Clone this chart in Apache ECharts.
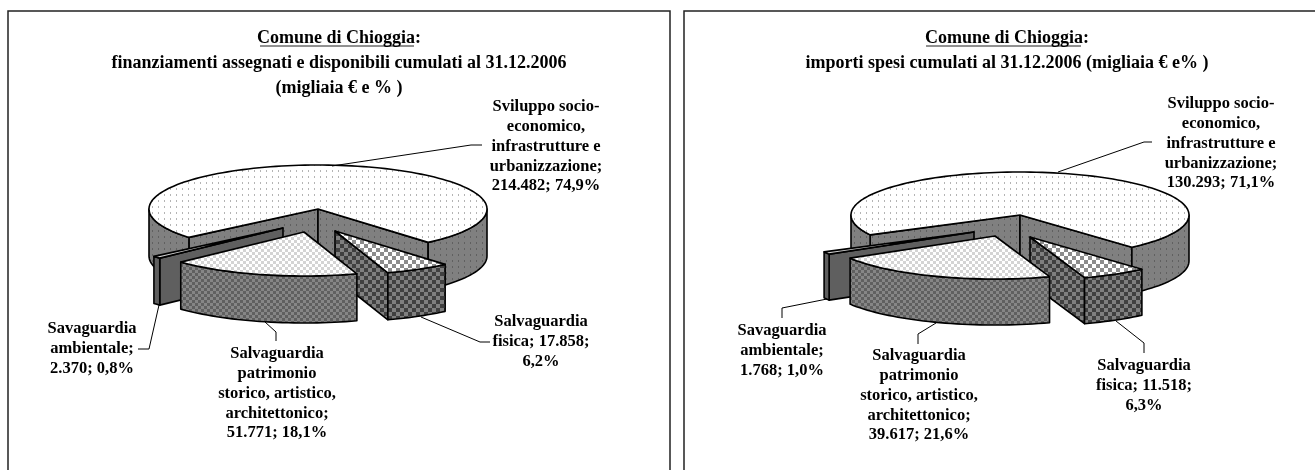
<!DOCTYPE html>
<html>
<head>
<meta charset="utf-8">
<style>
  html, body { margin: 0; background: #fff; }
  #chart-panel { width: 1315px; height: 470px; }
</style>
<script src="https://cdn.jsdelivr.net/npm/echarts@6/dist/echarts.min.js"></script>
</head>
<body>
<div id="chart-panel"></div>
<script>
// dati (ordine orario dopo il settore principale)
const categories = [
  'Sviluppo socio-\neconomico,\ninfrastrutture e\nurbanizzazione',
  'Salvaguardia\nfisica',
  'Salvaguardia\npatrimonio\nstorico, artistico,\narchitettonico',
  'Savaguardia\nambientale'
];
const valuesAssegnati = [214482, 17858, 51771, 2370];
const valuesSpesi = [130293, 11518, 39617, 1768];
const titleAssegnati = 'Comune di Chioggia:\nfinanziamenti assegnati e disponibili cumulati al 31.12.2006\n(migliaia € e % )';
const titleSpesi = 'Comune di Chioggia:\nimporti spesi cumulati al 31.12.2006 (migliaia € e% )';

// ordine di disegno: principale, ambientale, fisica, patrimonio
const drawOrder = [0, 3, 1, 2];
const FONT = 'bold 16.5px "Liberation Serif", "Times New Roman", serif';

// geometria dei due pannelli
const layoutAssegnati = {
  cx: 318, cy: 209, rx: 169, ry: 44, depth: 47, start: 139.8,
  offsets: [[0, 0], [17, 22], [-14, 23], [-35, 19]],
  labels: [[546, 97], [541, 312], [277, 344], [92, 319]],
  leaders: [
    [[332, 166], [471, 145], [482, 145]],
    [[421, 317], [480, 342], [490, 342]],
    [[265, 322], [276, 332], [276, 341]],
    [[159, 305], [149, 349], [138, 349]]
  ]
};
const layoutSpesi = {
  cx: 1020, cy: 215, rx: 169, ry: 43, depth: 46, start: 152.5,
  offsets: [[0, 0], [10, 22], [-25, 21], [-46, 17]],
  labels: [[1221, 94], [1144, 356], [919, 346], [782, 321]],
  leaders: [
    [[1058, 172], [1144, 142], [1152, 142]],
    [[1116, 321], [1144, 343], [1144, 353]],
    [[936, 323], [918, 334], [918, 344]],
    [[827, 299], [782, 308], [782, 318]]
  ]
};

// retini in stile Excel
function makePattern(size, paint) {
  let c = document.createElement('canvas');
  c.width = c.height = size;
  let ctx = c.getContext('2d');
  paint(ctx);
  return { image: c, repeat: 'repeat' };
}
function dots(bg, fg) {
  return makePattern(6, ctx => {
    ctx.fillStyle = bg; ctx.fillRect(0, 0, 6, 6);
    ctx.fillStyle = fg; ctx.fillRect(2, 2, 1, 2);
  });
}
function checker(size, a, b) {
  return makePattern(size * 2, ctx => {
    ctx.fillStyle = a; ctx.fillRect(0, 0, size * 2, size * 2);
    ctx.fillStyle = b; ctx.fillRect(0, 0, size, size); ctx.fillRect(size, size, size, size);
  });
}
const sliceFills = [
  { top: dots('#ffffff', '#b4b4b4'), side: dots('#808080', '#606060') },
  { top: checker(4, '#ffffff', '#8c8c8c'), side: checker(4, '#7f7f7f', '#404040') },
  { top: checker(3, '#ffffff', '#d4d4d4'), side: checker(3, '#868686', '#606060') },
  { top: '#d0d0d0', side: '#5f5f5f' }
];

function formatIt(v) {
  return String(v).replace(/\B(?=(\d{3})+$)/g, '.');
}

function labelText(values, i, total) {
  let pct = (values[i] / total * 100).toFixed(1).replace('.', ',');
  // la fisica va a capo in un punto diverso dalle altre
  if (i === 1) return `${categories[i]}; ${formatIt(values[i])};\n${pct}%`;
  return `${categories[i]};\n${formatIt(values[i])}; ${pct}%`;
}

function sliceAngles(values, start) {
  let total = values.reduce((a, b) => a + b, 0);
  let t = start;
  return values.map(v => {
    let t0 = t;
    t += v / total * 360;
    return [t0, t];
  });
}

function makeRenderItem(values, lay) {
  let angles = sliceAngles(values, lay.start);
  let total = values.reduce((a, b) => a + b, 0);
  return function (params, api) {
    let i = api.value(0);
    let [t0, t1] = angles[i];
    let ax = lay.cx + lay.offsets[i][0];
    let ay = lay.cy + lay.offsets[i][1];
    let rim = (t, dy) => {
      let r = t * Math.PI / 180;
      return [ax + lay.rx * Math.cos(r), ay + lay.ry * Math.sin(r) + (dy || 0)];
    };
    let arc = (a, b, dy) => {
      let pts = [];
      let n = Math.max(2, Math.ceil((b - a) / 2));
      for (let k = 0; k <= n; k++) pts.push(rim(a + (b - a) * k / n, dy));
      return pts;
    };
    let fill = sliceFills[i];
    let edge = { stroke: '#000', lineWidth: 1.6, lineJoin: 'round' };
    let children = [];
    let poly = (points, f) => children.push({
      type: 'polygon', shape: { points: points }, style: Object.assign({ fill: f }, edge)
    });
    let face = t => poly([[ax, ay], rim(t), rim(t, lay.depth), [ax, ay + lay.depth]], fill.side);

    // facce radiali visibili
    if (Math.cos(t0 * Math.PI / 180) < 0) face(t0);
    if (Math.cos(t1 * Math.PI / 180) > 0) face(t1);
    // parete esterna, solo la metà verso chi guarda
    [[0, 180], [360, 540]].forEach(([lo, hi]) => {
      let a = Math.max(t0, lo), b = Math.min(t1, hi);
      if (b > a) poly(arc(a, b).concat(arc(a, b, lay.depth).reverse()), fill.side);
    });
    // piano superiore
    poly([[ax, ay]].concat(arc(t0, t1)), fill.top);

    // etichetta e linea di richiamo
    children.push({
      type: 'polyline', shape: { points: lay.leaders[i] },
      style: { stroke: '#000', lineWidth: 1, fill: null }
    });
    children.push({
      type: 'text',
      style: {
        text: labelText(values, i, total),
        x: lay.labels[i][0], y: lay.labels[i][1],
        align: 'center', verticalAlign: 'top',
        font: FONT, lineHeight: 19.8, fill: '#000'
      }
    });
    return { type: 'group', children: children };
  };
}

function titleOption(text, x) {
  return {
    text: text, left: x, top: 26, textAlign: 'center', padding: 0,
    textStyle: {
      fontFamily: '"Liberation Serif", "Times New Roman", serif',
      fontWeight: 'bold', fontSize: 18, lineHeight: 25, color: '#000'
    }
  };
}

function frameLine(points, width) {
  return {
    type: 'polyline', shape: { points: points },
    style: { stroke: '#222', lineWidth: width || 1.5, fill: null }
  };
}

let chartPanel = document.getElementById('chart-panel');
let myChart = echarts.init(chartPanel);

myChart.setOption({
  backgroundColor: '#fff',
  animation: false,
  title: [titleOption(titleAssegnati, 339), titleOption(titleSpesi, 1007)],
  graphic: [
    frameLine([[8, 480], [8, 11], [670, 11], [670, 480]]),
    frameLine([[684, 480], [684, 11], [1330, 11]]),
    frameLine([[260, 46], [414, 46]], 1),
    frameLine([[926, 46], [1081, 46]], 1)
  ],
  series: [
    {
      type: 'custom', coordinateSystem: 'none', silent: true,
      renderItem: makeRenderItem(valuesAssegnati, layoutAssegnati),
      data: drawOrder.map(i => [i])
    },
    {
      type: 'custom', coordinateSystem: 'none', silent: true,
      renderItem: makeRenderItem(valuesSpesi, layoutSpesi),
      data: drawOrder.map(i => [i])
    }
  ]
});
</script>
</body>
</html>
